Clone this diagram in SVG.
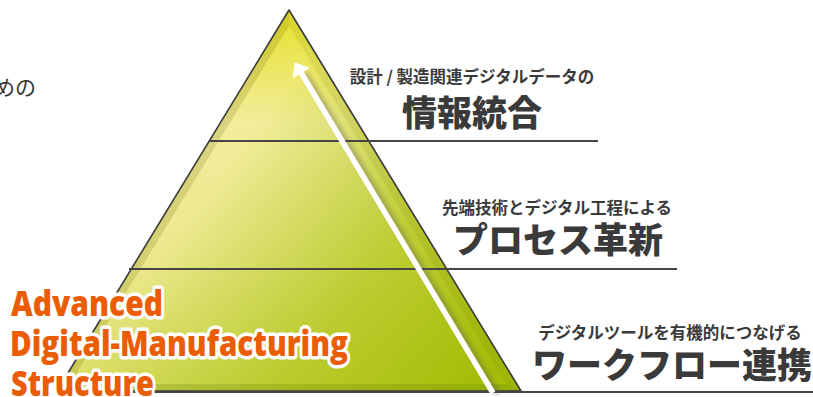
<svg xmlns="http://www.w3.org/2000/svg" width="813" height="397" viewBox="0 0 813 397">
<defs>
<style>
.rule{stroke:#454545;stroke-width:1.8;fill:none}
.sub{font-family:"Noto Sans CJK JP",sans-serif;font-weight:700;font-size:16.5px;fill:#3a3a3a;text-anchor:middle}
.big{font-family:"Noto Sans CJK JP",sans-serif;font-weight:900;font-size:35px;fill:#3a3a3a;text-anchor:middle}
.title{font-family:"Open Sans","Noto Sans",sans-serif;font-weight:800;font-size:36px;fill:#ea5d04;stroke:#ffffff;stroke-width:7;stroke-linejoin:round;paint-order:stroke}
</style>
<linearGradient id="gV" x1="0" y1="10" x2="0" y2="391" gradientUnits="userSpaceOnUse">
<stop offset="0" stop-color="#e6e02a"/>
<stop offset="0.3" stop-color="#f2ed9c"/>
<stop offset="0.65" stop-color="#ebe88c"/>
<stop offset="1" stop-color="#dade66"/>
</linearGradient>
<linearGradient id="gD" x1="210" y1="190" x2="470" y2="380" gradientUnits="userSpaceOnUse">
<stop offset="0" stop-color="#a8c010" stop-opacity="0"/>
<stop offset="0.55" stop-color="#abc210" stop-opacity="0.7"/>
<stop offset="1" stop-color="#a6be0a" stop-opacity="1"/>
</linearGradient>
<filter id="blur" x="-20%" y="-20%" width="140%" height="140%"><feGaussianBlur stdDeviation="2"/></filter>
</defs>

<g id="pyramid">
<polygon points="289,10 57,391 521,391" fill="url(#gV)"/>
<polygon points="289,10 57,391 521,391" fill="url(#gD)"/>
<polygon points="289,10 57,391 70,384 289,26" fill="#6a6200" fill-opacity="0.18"/>
<polygon points="289,10 521,391 506,384 289,26" fill="#707800" fill-opacity="0.12"/>
<polygon points="57,391 521,391 506,384 70,384" fill="#5a7000" fill-opacity="0.2"/>
<polygon points="289,10 57,391 521,391" fill="none" stroke="#3a3a3a" stroke-width="1.6" stroke-linejoin="round"/>
</g>

<g id="connectors">
<line class="rule" x1="210" y1="141" x2="598" y2="141"/>
<line class="rule" x1="129" y1="269" x2="677" y2="269"/>
<line class="rule" x1="57" y1="392" x2="813" y2="392"/>
<g id="arrow">
<line x1="498" y1="394" x2="305" y2="73" stroke="#555" stroke-opacity="0.35" stroke-width="6" filter="url(#blur)"/>
<line x1="493" y1="393" x2="301" y2="72.5" stroke="#ffffff" stroke-width="5.5"/>
<polygon points="295.3,63.1 308.3,68.1 293.7,76.9" fill="#ffffff" stroke="#ffffff" stroke-width="1.5" stroke-linejoin="round"/>
</g>
</g>

<g id="label-top">
<text class="sub" x="472" y="83">設計 / 製造関連デジタルデータの</text>
<text class="big" x="472" y="126">情報統合</text>
</g>
<g id="label-mid">
<text class="sub" x="557" y="214">先端技術とデジタル工程による</text>
<text class="big" x="558" y="253">プロセス革新</text>
</g>
<g id="label-bottom">
<text class="sub" x="670" y="339">デジタルツールを有機的につなげる</text>
<text class="big" x="672" y="378">ワークフロー連携</text>
</g>

<g id="corner-text">
<text x="-6" y="95" font-family="Noto Sans CJK JP,sans-serif" font-size="21" fill="#333">めの</text>
</g>

<g id="title">
<text class="title" x="11" y="316" textLength="152" lengthAdjust="spacingAndGlyphs">Advanced</text>
<text class="title" x="10" y="356" textLength="338" lengthAdjust="spacingAndGlyphs">Digital-Manufacturing</text>
<text class="title" x="11" y="396" textLength="143" lengthAdjust="spacingAndGlyphs">Structure</text>
</g>
</svg>
